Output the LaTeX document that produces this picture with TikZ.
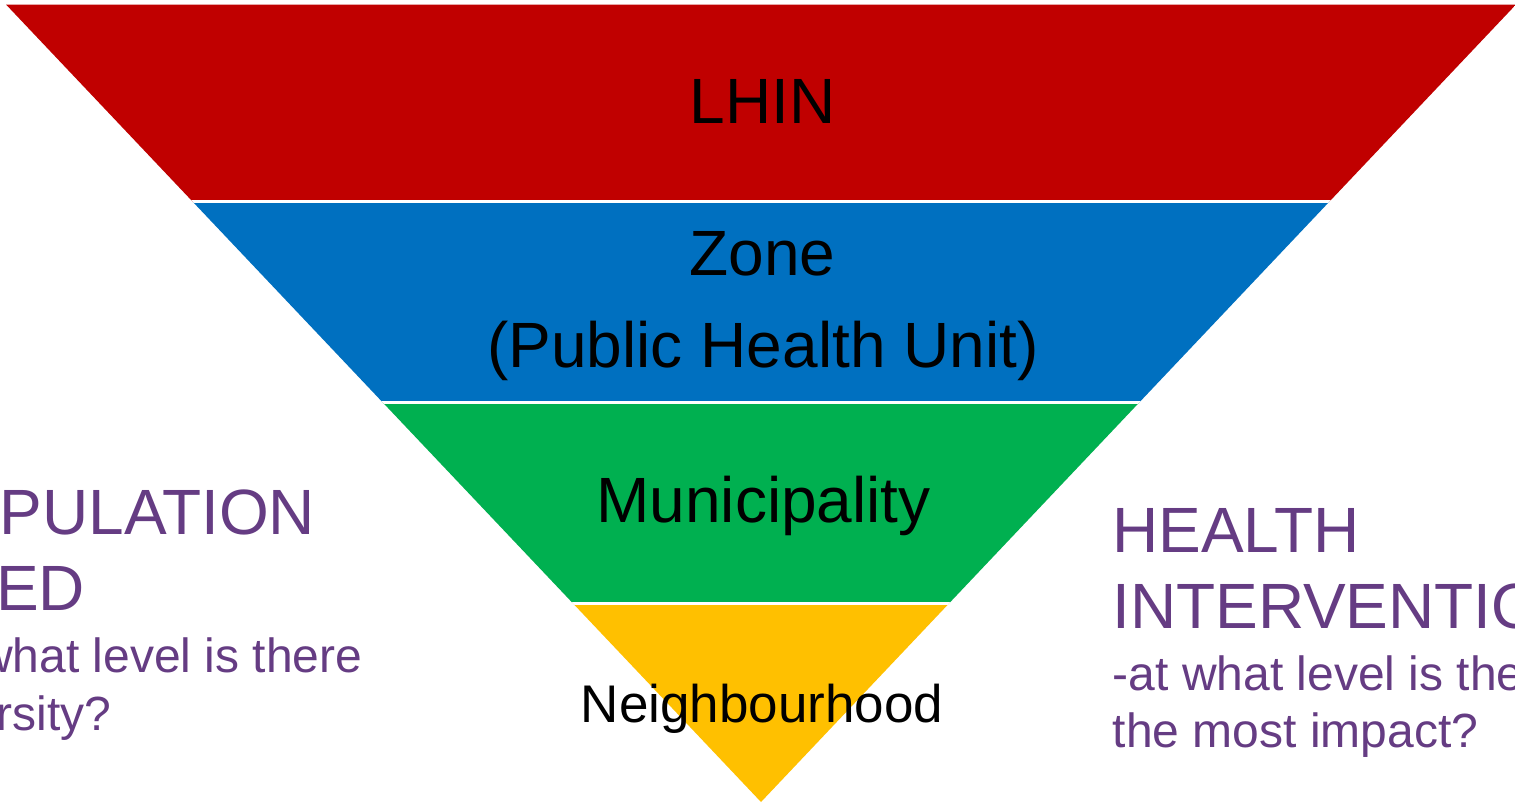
\documentclass[tikz,border=0pt]{standalone}
\usepackage{fontspec}
\setmainfont{Liberation Sans}
\definecolor{lhinred}{RGB}{192,0,0}
\definecolor{zoneblue}{RGB}{0,112,192}
\definecolor{munigreen}{RGB}{0,176,80}
\definecolor{nbhyellow}{RGB}{255,192,0}
\definecolor{sidepurple}{RGB}{101,60,131}
\tikzset{
  bandtext/.style={inner sep=0pt, anchor=base, text=black, font=\fontsize{64}{76}\selectfont},
  smalltext/.style={inner sep=0pt, anchor=base, text=black, font=\fontsize{53}{62}\selectfont},
  sidetitle/.style={inner sep=0pt, anchor=base west, text=sidepurple, font=\fontsize{64}{76}\selectfont},
  sidesub/.style={inner sep=0pt, anchor=base west, text=sidepurple, font=\fontsize{48}{57}\selectfont},
  gapline/.style={draw=white, line width=2.6pt}
}
\begin{document}
\begin{tikzpicture}[x=1pt,y=-1pt]
\useasboundingbox (0,0) rectangle (1515,804);
\fill[white] (0,0) rectangle (1515,804);
\begin{scope}
  \clip (6,4.5) -- (1516,4.5) -- (761,802) -- cycle;
  \fill[lhinred]    (0,0)     rectangle (1520,201.5);
  \fill[zoneblue]   (0,201.5) rectangle (1520,402.3);
  \fill[munigreen]  (0,402.3) rectangle (1520,603.3);
  \fill[nbhyellow]  (0,603.3) rectangle (1520,810);
  \draw[gapline] (0,201.3) -- (1520,201.3);
  \draw[gapline] (0,402.2) -- (1520,402.2);
  \draw[gapline] (0,603.3) -- (1520,603.3);
\end{scope}
\node[bandtext] (lhin) at (762.5,123) {LHIN};
\node[bandtext] (zone) at (762.5,275) {Zone};
\node[bandtext] (phu) at (763,367) {(Public Health Unit)};
\node[bandtext] (muni) at (763.5,522) {Municipality};
\node[smalltext] (nbh) at (762,722) {Neighbourhood};
\node[sidetitle] (popa) at (-93,534) {POPULATION};
\node[sidetitle] (popb) at (-93,610) {NEED};
\node[sidesub] (popc) at (-91.5,672) {-at what level is there};
\node[sidesub] (popd) at (-91.5,730) {diversity?};
\node[sidetitle] (hea) at (1112,552) {HEALTH};
\node[sidetitle] (heb) at (1112,628) {INTERVENTION};
\node[sidesub] (hec) at (1112.5,690) {-at what level is there};
\node[sidesub] (hed) at (1112.5,747) {the most impact?};
\end{tikzpicture}
\end{document}
